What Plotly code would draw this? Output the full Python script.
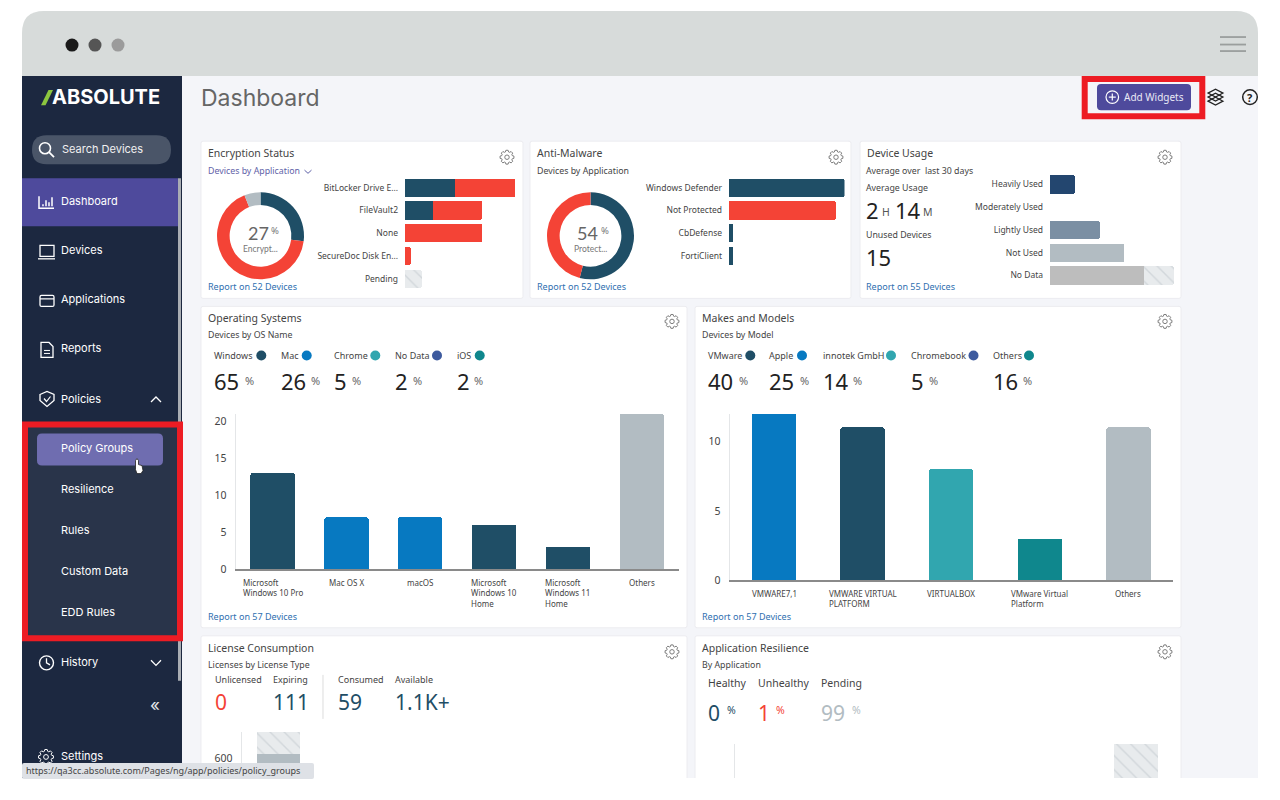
import math

import plotly.graph_objects as go

W = 1280
H = 800
# the page comes out 8px shorter than the layout height, so vertical positions are worked out against this
PAGE_H = 792
FONT = "Noto Sans"
NAV_FONT = "Inter"
DARK = "#1f4e66"
BLUE = "#0779c1"
TEAL = "#31a6af"
GREEN = "#0f878d"
INDIGO = "#3d5a9e"
RED = "#f44336"
GREY = "#b2bcc2"
TEXT = "#444444"
LINK = "#2f6fb0"

# Encryption Status
enc_share = [27, 67, 6]
enc_apps = ["BitLocker Drive E...", "FileVault2", "None", "SecureDoc Disk En...", "Pending"]
enc_yes = [9, 5, 0, 0, 0]
enc_no = [11, 9, 14, 1, 0]
enc_pending = [0, 0, 0, 0, 3]

# Anti-Malware
mal_share = [54, 46]
mal_apps = ["Windows Defender", "Not Protected", "CbDefense", "FortiClient"]
mal_values = [26, 24, 1, 1]
mal_colors = [DARK, RED, DARK, DARK]

# Device Usage
use_levels = ["Heavily Used", "Moderately Used", "Lightly Used", "Not Used", "No Data"]
use_values = [5, None, 10, 15, 19]
use_hatched = [None, None, None, None, 6]
use_colors = ["#23466f", "#6f8aa5", "#7b8fa3", GREY, "#bdbdbd"]

# Operating Systems
os_groups = ["Windows", "Mac", "Chrome", "No Data", "iOS"]
os_shares = [65, 26, 5, 2, 2]
os_group_colors = [DARK, BLUE, TEAL, INDIGO, GREEN]
os_names = ["Microsoft<br>Windows 10 Pro", "Mac OS X", "macOS", "Microsoft<br>Windows 10<br>Home",
            "Microsoft<br>Windows 11<br>Home", "Others"]
os_values = [13, 7, 7, 6, 3, 21]
os_colors = [DARK, BLUE, BLUE, DARK, DARK, GREY]

# Makes and Models
make_groups = ["VMware", "Apple", "innotek GmbH", "Chromebook", "Others"]
make_shares = [40, 25, 14, 5, 16]
make_group_colors = [DARK, BLUE, TEAL, INDIGO, GREEN]
make_names = ["VMWARE7,1", "VMWARE VIRTUAL<br>PLATFORM", "VIRTUALBOX", "VMware Virtual<br>Platform", "Others"]
make_values = [12, 11, 8, 3, 11]
make_colors = [BLUE, DARK, TEAL, GREEN, GREY]

# License Consumption, only the top of the first bar is on screen
lic_stats = ["Unlicensed", "Expiring", "Consumed", "Available"]
lic_numbers = ["0", "111", "59", "1.1K+"]
lic_number_colors = [RED, DARK, DARK, DARK]
lic_solid = [637]
lic_hatched = [163]

# Application Resilience
res_stats = ["Healthy", "Unhealthy", "Pending"]
res_shares = [0, 1, 99]
res_colors = [DARK, RED, GREY]
res_pending = [99]

nav_items = ["Dashboard", "Devices", "Applications", "Reports", "Policies"]
nav_sub_items = ["Policy Groups", "Resilience", "Rules", "Custom Data", "EDD Rules"]
gears = [(507, 157), (836, 157), (1165, 157), (672, 321), (1165, 321), (672, 651), (1165, 651)]


def px(x):
    return x / W


def py(y):
    return 1 - y / PAGE_H


def dom_x(x0, x1):
    return [px(x0), px(x1)]


def dom_y(y0, y1):
    return [py(y1), py(y0)]


shapes = []
notes = []


def path_str(points, close=False):
    s = "M " + " L ".join(f"{px(x):.5f},{py(y):.5f}" for x, y in points)
    return s + " Z" if close else s


def add_path(points, color=None, fill=None, width=1.2, close=False, layer="above"):
    shapes.append(dict(type="path", xref="paper", yref="paper", path=path_str(points, close), layer=layer,
                       fillcolor=fill or "rgba(0,0,0,0)",
                       line=dict(color=color or "rgba(0,0,0,0)", width=width)))


def add_rect(x0, y0, x1, y1, fill, r=0, line=None, lw=1, layer="below"):
    # rounded rectangle, corners as quadratic curves
    p = lambda x, y: f"{px(x):.5f},{py(y):.5f}"
    d = (f"M {p(x0 + r, y0)} L {p(x1 - r, y0)} Q {p(x1, y0)} {p(x1, y0 + r)} L {p(x1, y1 - r)} "
         f"Q {p(x1, y1)} {p(x1 - r, y1)} L {p(x0 + r, y1)} Q {p(x0, y1)} {p(x0, y1 - r)} "
         f"L {p(x0, y0 + r)} Q {p(x0, y0)} {p(x0 + r, y0)} Z")
    shapes.append(dict(type="path", xref="paper", yref="paper", path=d, fillcolor=fill, layer=layer,
                       line=dict(color=line or "rgba(0,0,0,0)", width=lw)))


def add_circle(cx, cy, r, fill=None, line=None, lw=1.2, layer="above"):
    shapes.append(dict(type="circle", xref="paper", yref="paper", layer=layer,
                       x0=px(cx - r), x1=px(cx + r), y0=py(cy + r), y1=py(cy - r),
                       fillcolor=fill or "rgba(0,0,0,0)",
                       line=dict(color=line or "rgba(0,0,0,0)", width=lw)))


def add_text(x, y, text, size=9.5, color=TEXT, family=FONT, anchor="left"):
    notes.append(dict(xref="paper", yref="paper", x=px(x - 1 if anchor == "left" else x), y=py(y - 1), text=text,
                      showarrow=False, xanchor=anchor, yanchor="middle", align=anchor, borderpad=0,
                      font=dict(family=family, size=size, color=color)))


def add_gear(cx, cy, r=6.5, color="#7d7d7d"):
    pts = []
    for i in range(8):
        a = i * math.pi / 4
        for da, rr in ((-0.30, r * 0.78), (-0.16, r), (0.16, r), (0.30, r * 0.78)):
            pts.append((cx + rr * math.cos(a + da), cy + rr * math.sin(a + da)))
    add_path(pts, color=color, width=1, close=True)
    add_circle(cx, cy, r * 0.32, line=color, lw=1)


def add_chevron(cx, cy, w, h, color="white", lw=1.3):
    # h > 0 points down, h < 0 points up
    add_path([(cx - w, cy - h), (cx, cy + h), (cx + w, cy - h)], color=color, width=lw)


# window and page background
add_rect(22, 11, 1258, 100, "#d7dbda", r=22)
add_rect(22, 76, 1258, 777, "#f4f5f9")
add_rect(22, 76, 182, 777, "#1c2840")
add_rect(22, 178, 178, 226, "#4e4a9c")
add_rect(178, 178, 181, 680, "#a9adb3")
add_circle(72, 45, 6.5, fill="#1a1a1a", layer="below")
add_circle(95, 45, 6.5, fill="#555555", layer="below")
add_circle(118, 45, 6.5, fill="#9b9b9b", layer="below")
for yy in (37, 44.5, 51):
    add_path([(1220, yy), (1246, yy)], color="#9a9e9d", width=1.8, layer="below")

# panels
for x0, y0, x1, y1 in [(201, 141, 523, 298), (530, 141, 851, 298), (860, 141, 1181, 298),
                       (201, 306, 687, 627), (695, 306, 1181, 627), (201, 635, 687, 790), (695, 635, 1181, 790)]:
    add_rect(x0, y0, x1, y1, "white", r=2, line="#ececf0")
for g in gears:
    add_gear(*g, r=7)

# sidebar
add_path([(41, 105), (45.5, 105), (53, 90), (48.5, 90)], fill="#8cc63f", close=True)
add_text(52, 98, "<b>ABSOLUTE</b>", size=20, color="white", family=NAV_FONT)
add_rect(32, 135, 171, 164, "#4a5568", r=14.5)
add_circle(45, 148, 5.5, line="white", lw=1.6)
add_path([(49, 152), (54, 157)], color="white", width=1.8)
add_text(62, 149.5, "Search Devices", size=11, color="#f0f0f0", family=NAV_FONT)
for item, yy in zip(nav_items, [202, 251, 300, 349, 399]):
    add_text(61, yy, item, size=11, color="white", family=NAV_FONT)
add_path([(39, 196), (39, 208), (54, 208)], color="white", width=1.5)
for xx, top in zip((43, 46, 49, 52), (204, 200, 202, 197)):
    add_path([(xx, 206), (xx, top)], color="white", width=1.5)
add_rect(40, 245, 54, 256, "rgba(0,0,0,0)", line="white", lw=1.3, layer="above")
add_path([(38, 258.5), (55, 258.5)], color="white", width=1.3)
add_rect(40, 295, 54, 306, "rgba(0,0,0,0)", r=1.5, line="white", lw=1.3, layer="above")
add_path([(40, 298.5), (54, 298.5)], color="white", width=1.2)
add_path([(41, 342), (49, 342), (53, 346), (53, 357), (41, 357)], color="white", width=1.3, close=True)
add_path([(44, 350), (50, 350)], color="white", width=1)
add_path([(44, 353), (50, 353)], color="white", width=1)
add_path([(40, 394), (47, 391), (54, 394), (54, 400), (47, 406), (40, 400)], color="white", width=1.3, close=True)
add_path([(44, 398), (46.5, 401), (50.5, 396)], color="white", width=1.2)
add_chevron(156, 399, 5, -2.5)

# policies sub menu with the red highlight
add_rect(25, 424, 180, 637.5, "#29344a", line="#ed1c24", lw=6, layer="above")
add_rect(37, 433, 163, 465, "#6f6db0", r=5, layer="above")
for item, yy in zip(nav_sub_items, [448, 489, 530, 571, 612]):
    add_text(61, yy, item, size=11, color="white", family=NAV_FONT)
add_path([(135.5, 469), (135.5, 460), (137, 458), (138.5, 460), (138.5, 464), (142, 465), (143, 470), (141, 473),
          (137, 473)], color="#222222", fill="white", width=0.8, close=True)

add_text(61, 662, "History", size=11, color="white", family=NAV_FONT)
add_circle(46.5, 662, 7, line="white", lw=1.4)
add_path([(46.5, 657.5), (46.5, 662), (50, 664)], color="white", width=1.3)
add_chevron(156, 662, 5, 2.5)
add_text(155, 705, "«", size=17, color="#e4e6ea", family=NAV_FONT, anchor="center")
add_gear(46, 756, r=7.5, color="white")
add_text(61, 756, "Settings", size=11, color="white", family=NAV_FONT)

# top strip
add_text(201, 98.5, "Dashboard", size=23, color="#666666", family=NAV_FONT)
add_rect(1084.7, 79, 1202.3, 116, "rgba(0,0,0,0)", line="#ed1c24", lw=6, layer="above")
add_rect(1097, 84, 1191, 110, "#4e4a9c", r=4, layer="above")
add_circle(1112.3, 97, 6.3, line="white", lw=1.2)
add_path([(1108.8, 97), (1115.8, 97)], color="white", width=1.2)
add_path([(1112.3, 93.5), (1112.3, 100.5)], color="white", width=1.2)
add_text(1124, 98, "Add Widgets", size=10, color="#e9e9f5")
for yy in (93, 97, 101):
    add_path([(1208, yy), (1215.5, yy - 4), (1223, yy), (1215.5, yy + 4)], color="#222222", width=1.2, close=True)
add_circle(1250, 97, 7.3, line="#222222", lw=1.5)
add_text(1250, 98, "<b>?</b>", size=11, color="#222222", anchor="center")

# Encryption Status texts
add_text(208, 154, "Encryption Status", size=10.5)
add_text(208, 172, "Devices by Application", size=8.8, color="#5f62a8")
add_chevron(308, 171.5, 3.5, 1.6, color="#5f62a8", lw=1)
add_text(208, 287, "Report on 52 Devices", size=9, color=LINK)
add_text(258.5, 234, f"{enc_share[0]}", size=18, color="#666666", family="Lato", anchor="center")
add_text(275, 231, "%", size=9.5, color="#777777", anchor="center")
add_text(260.5, 250, "Encrypt...", size=8.5, color="#777777", family="Lato", anchor="center")

# Anti-Malware texts
add_text(537, 154, "Anti-Malware", size=10.5)
add_text(537, 172, "Devices by Application", size=8.8)
add_text(537, 287, "Report on 52 Devices", size=9, color=LINK)
add_text(587.5, 234, f"{mal_share[0]}", size=18, color="#666666", family="Lato", anchor="center")
add_text(605, 231, "%", size=9.5, color="#777777", anchor="center")
add_text(590.5, 250, "Protect...", size=8.5, color="#777777", family="Lato", anchor="center")

# Device Usage texts
add_text(867, 154, "Device Usage", size=10.5)
add_text(866, 172, "Average over  last 30 days", size=8.8)
add_text(866, 188.5, "Average Usage", size=8.8)
add_text(866, 211, "2", size=22, color="#222222")
add_text(882, 213, "H", size=10.5, color="#555555")
add_text(895, 211, "14", size=22, color="#222222")
add_text(923, 213, "M", size=10.5, color="#555555")
add_text(866, 235.5, "Unused Devices", size=8.8)
add_text(866, 257.5, "15", size=22, color="#222222")
add_text(866, 287, "Report on 55 Devices", size=9, color=LINK)

# Operating Systems texts
add_text(208, 318.5, "Operating Systems", size=10.5)
add_text(208, 336, "Devices by OS Name", size=8.8)
add_text(208, 617, "Report on 57 Devices", size=9, color=LINK)
os_x = [214, 281, 334, 395, 456.5]
os_dot = [261.3, 306.7, 375.3, 437, 479.7]
os_pct = [249, 315, 356, 417, 478]
for name, share, col, x, dot, pct in zip(os_groups, os_shares, os_group_colors, os_x, os_dot, os_pct):
    add_text(x, 356, name, size=9)
    add_circle(dot, 355, 5, fill=col)
    add_text(x, 382, f"{share}", size=22, color="#222222")
    add_text(pct, 381, "%", size=11, color="#666666", anchor="center")

# Makes and Models texts
add_text(702, 318.5, "Makes and Models", size=10.5)
add_text(702, 336, "Devices by Model", size=8.8)
add_text(702, 617, "Report on 57 Devices", size=9, color=LINK)
make_x = [708, 769, 823, 911, 993]
make_dot = [750.3, 802, 891, 973.5, 1029]
make_pct = [743, 804, 857, 933, 1027]
for name, share, col, x, dot, pct in zip(make_groups, make_shares, make_group_colors, make_x, make_dot, make_pct):
    add_text(x, 356, name, size=9)
    add_circle(dot, 355, 5, fill=col)
    add_text(x, 382, f"{share}", size=22, color="#222222")
    add_text(pct, 381, "%", size=11, color="#666666", anchor="center")

# License Consumption texts
add_text(208, 648, "License Consumption", size=10.5)
add_text(208, 665, "Licenses by License Type", size=8.8)
for name, num, col, x in zip(lic_stats, lic_numbers, lic_number_colors, [214.5, 273, 337.5, 394.5]):
    add_text(x, 680, name, size=9)
    add_text(x, 702, num, size=21, color=col)
add_path([(323, 674), (323, 718)], color="#dddddd", width=1)

# Application Resilience texts
add_text(702, 648, "Application Resilience", size=10.5)
add_text(702, 665, "By Application", size=8.8)
for name, share, col, x, pct in zip(res_stats, res_shares, res_colors, [708, 758, 821], [731, 780, 856]):
    add_text(x, 683, name, size=10.5)
    add_text(x, 713, f"{share}", size=21, color=col)
    add_text(pct, 710, "%", size=10.5, color=col, anchor="center")

# things that sit on top of the charts
add_rect(0, 777, W, H + 2, "white", layer="above")
add_rect(22, 762, 314, 778, "#dee1e6", r=2, layer="above")
add_text(26, 771, "https://qa3cc.absolute.com/Pages/ng/app/policies/policy_groups", size=9, color="#444444")

fig = go.Figure()

fig.add_trace(go.Pie(values=enc_share, sort=False, direction="clockwise", hole=0.71, textinfo="none",
                     marker=dict(colors=[DARK, RED, GREY]), showlegend=False,
                     domain=dict(x=dom_x(217, 304), y=dom_y(192, 279))))
fig.add_trace(go.Pie(values=mal_share, sort=False, direction="clockwise", hole=0.71, textinfo="none",
                     marker=dict(colors=[DARK, RED]), showlegend=False,
                     domain=dict(x=dom_x(547, 634), y=dom_y(192, 279))))

hatch = dict(shape="\\", size=10, solidity=0.14, bgcolor="#e8ebed", fgcolor="#bcc4c9")

for vals, col, pattern in [(enc_yes, DARK, None), (enc_no, RED, None), (enc_pending, "#e8ebed", hatch)]:
    fig.add_trace(go.Bar(y=enc_apps, x=vals, orientation="h", width=0.8, xaxis="x", yaxis="y", showlegend=False,
                         marker=dict(color=col, pattern=pattern, cornerradius=1, line_width=0)))

fig.add_trace(go.Bar(y=mal_apps, x=mal_values, orientation="h", width=0.8, xaxis="x2", yaxis="y2", showlegend=False,
                     marker=dict(color=mal_colors, cornerradius=1, line_width=0)))

fig.add_trace(go.Bar(y=use_levels, x=use_values, orientation="h", width=0.8, xaxis="x3", yaxis="y3", showlegend=False,
                     marker=dict(color=use_colors, cornerradius=1, line_width=0)))
fig.add_trace(go.Bar(y=use_levels, x=use_hatched, orientation="h", width=0.8, xaxis="x3", yaxis="y3", showlegend=False,
                     marker=dict(color="#e8ebed", pattern=hatch, cornerradius=1, line_width=0)))

fig.add_trace(go.Bar(x=os_names, y=os_values, width=0.6, xaxis="x4", yaxis="y4", showlegend=False,
                     marker=dict(color=os_colors, cornerradius=2, line_width=0)))
fig.add_trace(go.Bar(x=make_names, y=make_values, width=0.5, xaxis="x5", yaxis="y5", showlegend=False,
                     marker=dict(color=make_colors, cornerradius=2, line_width=0)))

fig.add_trace(go.Bar(x=[0], y=lic_solid, width=0.59, xaxis="x6", yaxis="y6", showlegend=False,
                     marker=dict(color=GREY, line_width=0)))
fig.add_trace(go.Bar(x=[0], y=lic_hatched, width=0.59, xaxis="x6", yaxis="y6", showlegend=False,
                     marker=dict(color="#e8ebed", pattern=hatch, line_width=0)))
fig.add_trace(go.Bar(x=[5], y=res_pending, width=0.6, xaxis="x7", yaxis="y7", showlegend=False,
                     marker=dict(color="#e8ebed", pattern=hatch, line_width=0)))

# category labels are left aligned inside a box centred on the bar, which ticks can't do
for name in os_names:
    notes.append(dict(xref="x4", yref="paper", x=name, y=py(574), text=name, showarrow=False, xanchor="center",
                      yanchor="top", align="left", font=dict(family=FONT, size=8, color=TEXT)))
for name in make_names:
    notes.append(dict(xref="x5", yref="paper", x=name, y=py(585.5), text=name, showarrow=False, xanchor="center",
                      yanchor="top", align="left", font=dict(family=FONT, size=8, color=TEXT)))

hbar_tick = dict(family=FONT, size=8.5, color=TEXT)
vbar_tick = dict(family=FONT, size=10.5, color=TEXT)
off = dict(showgrid=False, zeroline=False, showticklabels=False, ticks="", showline=False, fixedrange=True)
hcat = dict(showgrid=False, zeroline=False, showline=False, ticks="", tickfont=hbar_tick, ticklabelstandoff=6,
            fixedrange=True)
vcat = dict(showgrid=False, zeroline=False, showticklabels=False, ticks="", showline=True, linecolor="#8a8a8a",
            linewidth=2, fixedrange=True)
vnum = dict(showgrid=False, zeroline=False, ticks="", showline=True, linecolor="#e4e6e8", linewidth=1,
            tickfont=vbar_tick, ticklabelstandoff=6, fixedrange=True)

fig.update_layout(
    autosize=False,
    width=W,
    height=H,
    margin=dict(l=0, r=0, t=0, b=0, pad=0),
    paper_bgcolor="white",
    plot_bgcolor="rgba(0,0,0,0)",
    barmode="stack",
    showlegend=False,
    shapes=shapes,
    annotations=notes,
    xaxis=dict(off, domain=dom_x(405, 515), range=[0, 20], anchor="y"),
    yaxis=dict(hcat, domain=dom_y(176, 289.75), range=[4.5, -0.5], anchor="x", type="category",
               categoryarray=enc_apps),
    xaxis2=dict(off, domain=dom_x(729, 844.5), range=[0, 26], anchor="y2"),
    yaxis2=dict(hcat, domain=dom_y(176, 267), range=[3.5, -0.5], anchor="x2", type="category",
                categoryarray=mal_apps),
    xaxis3=dict(off, domain=dom_x(1050, 1174), range=[0, 25], anchor="y3"),
    yaxis3=dict(hcat, domain=dom_y(172.8, 286.5), range=[4.5, -0.5], anchor="x3", type="category",
                categoryarray=use_levels),
    xaxis4=dict(vcat, domain=dom_x(235.7, 678.7), anchor="y4", type="category", categoryarray=os_names),
    yaxis4=dict(vnum, domain=dom_y(413.3, 568.3), range=[0, 21], tickvals=[0, 5, 10, 15, 20], anchor="x4"),
    xaxis5=dict(vcat, domain=dom_x(729.7, 1172.7), anchor="y5", type="category", categoryarray=make_names),
    yaxis5=dict(vnum, domain=dom_y(413, 579.7), range=[0, 12], tickvals=[0, 5, 10], anchor="x5"),
    xaxis6=dict(off, domain=dom_x(241.7, 679), range=[-0.5, 5.5], anchor="y6"),
    yaxis6=dict(vnum, domain=dom_y(731, 777), range=[455, 800], tickvals=[600], anchor="x6"),
    xaxis7=dict(off, domain=dom_x(734.7, 1172.7), range=[-0.5, 5.5], anchor="y7"),
    yaxis7=dict(off, domain=dom_y(743, 777), range=[80, 99], anchor="x7", showline=True, linecolor="#e4e6e8",
                linewidth=1),
)

fig.write_html("out.html", config=dict(displayModeBar=False),
               post_script="document.body.style.margin='0';document.body.style.overflow='hidden';")
